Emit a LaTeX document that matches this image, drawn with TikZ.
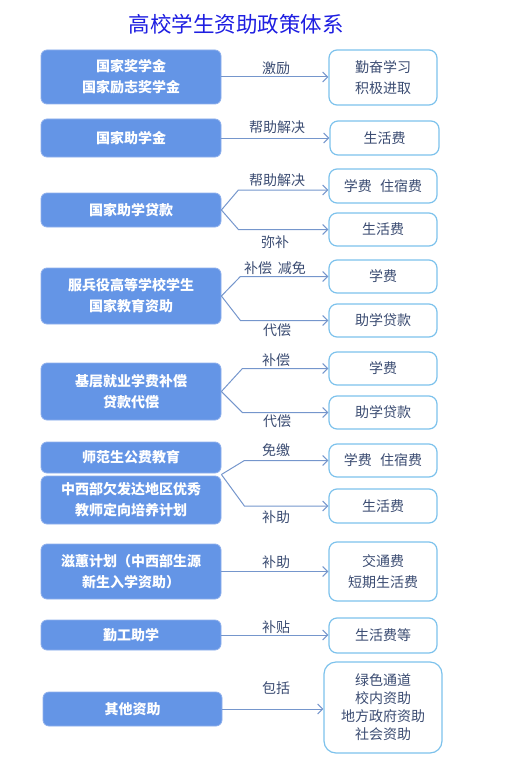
\documentclass[tikz,border=0pt]{standalone}
\usepackage{fontspec}
\newfontfamily\cjk{Noto Sans CJK SC}
\usetikzlibrary{arrows.meta,calc}
\definecolor{lfill}{HTML}{6495E6}
\definecolor{lborder}{HTML}{8FB0EC}
\definecolor{rborder}{HTML}{7DC2EC}
\definecolor{txt}{HTML}{3B4C72}
\definecolor{conn}{HTML}{7596CC}
\definecolor{ttl}{RGB}{30,30,225}
\tikzset{
  lbox/.style={draw=lborder, fill=lfill, rounded corners=6pt, line width=0.8pt,
    minimum width=180pt, inner sep=0pt, align=center, text=white,
    font={\cjk\bfseries\fontsize{14}{21}\selectfont}},
  rbox/.style={draw=rborder, fill=white, rounded corners=8pt, line width=1.2pt,
    minimum width=108pt, inner sep=0pt, align=center, text=txt,
    font={\cjk\fontsize{14}{21}\selectfont}},
  lbl/.style={text=txt, inner sep=0pt, font={\cjk\fontsize{14}{16}\selectfont}},
  conline/.style={draw=conn, line width=1pt, -{Straight Barb[length=5pt,width=10pt]}}
}
\begin{document}
\begin{tikzpicture}[x=1pt,y=-1pt]
\useasboundingbox (0,0) rectangle (510,765);
\node[text=ttl, inner sep=0pt, font={\cjk\fontsize{21.5}{24}\selectfont}] (title) at (236,24) {高校学生资助政策体系};
% left boxes
\node[lbox, minimum height=54pt] (L1) at (131,77) {国家奖学金\\国家励志奖学金};
\node[lbox, minimum height=38pt] (L2) at (131,138) {国家助学金};
\node[lbox, minimum height=34pt] (L3) at (131,210) {国家助学贷款};
\node[lbox, minimum height=56pt] (L4) at (131,296) {服兵役高等学校学生\\国家教育资助};
\node[lbox, minimum height=57pt] (L5) at (131,391.5) {基层就业学费补偿\\贷款代偿};
\node[lbox, minimum height=31pt] (L6a) at (131,457.5) {师范生公费教育};
\node[lbox, minimum height=48pt] (L6b) at (131,500) {中西部欠发达地区优秀\\教师定向培养计划};
\node[lbox, minimum height=55pt] (L7) at (131,571.5) {滋蕙计划（中西部生源\\新生入学资助）};
\node[lbox, minimum height=30pt] (L8) at (131,635) {勤工助学};
\node[lbox, minimum height=34pt, minimum width=179pt] (L9) at (132.5,709) {其他资助};
% right boxes
\node[rbox, minimum height=55pt] (R1) at (383,77.5) {勤奋学习\\积极进取};
\node[rbox, minimum height=34pt, minimum width=109pt] (R2) at (384.5,138) {生活费};
\node[rbox, minimum height=34pt] (R3a) at (383,186) {学费\hspace{0.6em}住宿费};
\node[rbox, minimum height=33pt] (R3b) at (383,229.5) {生活费};
\node[rbox, minimum height=33pt] (R4a) at (383,276.5) {学费};
\node[rbox, minimum height=33pt] (R4b) at (383,320.5) {助学贷款};
\node[rbox, minimum height=33pt] (R5a) at (383,368.5) {学费};
\node[rbox, minimum height=33pt] (R5b) at (383,412.5) {助学贷款};
\node[rbox, minimum height=33pt] (R6a) at (383,460.5) {学费\hspace{0.6em}住宿费};
\node[rbox, minimum height=34pt] (R6b) at (383,506) {生活费};
\node[rbox, minimum height=59pt] (R7) at (383,571.5) {交通费\\短期生活费};
\node[rbox, minimum height=35pt] (R8) at (383,635.5) {生活费等};
\node[rbox, minimum height=91pt, minimum width=118pt, rounded corners=12pt,
      font={\cjk\fontsize{14}{18}\selectfont}] (R9) at (383,707.5) {\raisebox{-3pt}{\parbox{110pt}{\centering 绿色通道\\校内资助\\地方政府资助\\社会资助}}};
% straight connectors
\draw[conline] (L1.east) -- (L1.east -| R1.west);
\draw[conline] (L2.east) -- (L2.east -| R2.west);
\draw[conline] (L7.east) -- (L7.east -| R7.west);
\draw[conline] (L8.east) -- (L8.east -| R8.west);
\draw[conline] (L9.east) -- (L9.east -| R9.west);
% forks
\coordinate (k3) at ([xshift=17pt]L3.east);
\coordinate (t3) at ([yshift=-4pt]R3a.west);
\draw[conline] (L3.east) -- (k3 |- t3) -- (t3);
\draw[conline] (L3.east) -- (k3 |- R3b.west) -- (R3b.west);
\coordinate (k4) at ([xshift=19pt]L4.east);
\draw[conline] (L4.east) -- (k4 |- R4a.west) -- (R4a.west);
\draw[conline] (L4.east) -- (k4 |- R4b.west) -- (R4b.west);
\coordinate (k5) at ([xshift=21pt]L5.east);
\draw[conline] (L5.east) -- (k5 |- R5a.west) -- (R5a.west);
\draw[conline] (L5.east) -- (k5 |- R5b.west) -- (R5b.west);
\coordinate (s6) at ($(L6a.south east)!0.5!(L6b.north east)$);
\coordinate (k6) at ([xshift=23pt]s6);
\draw[conline] (s6) -- (k6 |- R6a.west) -- (R6a.west);
\draw[conline] (s6) -- (k6 |- R6b.west) -- (R6b.west);
% labels
\node[lbl] (a1) at (276,68) {激励};
\node[lbl] (a2) at (277,127.5) {帮助解决};
\node[lbl] (a3) at (277,180) {帮助解决};
\node[lbl] (a3b) at (275,242) {弥补};
\node[lbl] (a4) at (275,268) {补偿\hspace{0.4em}减免};
\node[lbl] (a4b) at (277,330) {代偿};
\node[lbl] (a5) at (276,360) {补偿};
\node[lbl] (a5b) at (277,421) {代偿};
\node[lbl] (a6) at (276,450) {免缴};
\node[lbl] (a6b) at (276,517) {补助};
\node[lbl] (a7) at (276,562) {补助};
\node[lbl] (a8) at (276,627) {补贴};
\node[lbl] (a9) at (276,688) {包括};
\end{tikzpicture}
\end{document}
